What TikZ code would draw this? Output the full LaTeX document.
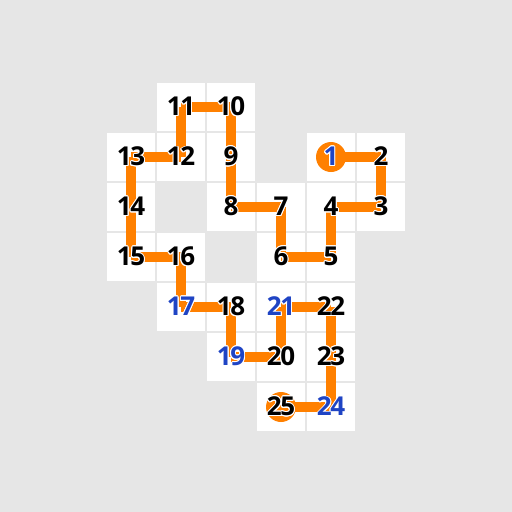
\documentclass[tikz,border=0pt]{standalone}
\usepackage{fontspec}
\setmainfont{Open Sans}[LetterSpace=-6]
\usepackage[copies]{contour}
\contourlength{0.7pt}
\definecolor{bggray}{HTML}{E6E6E6}
\definecolor{pathorange}{HTML}{FF8000}
\definecolor{givenblue}{HTML}{1F44C4}

\begin{document}
\begin{tikzpicture}[x=0.75pt,y=-0.75pt]
    \tikzstyle{cell}=[rectangle,fill=white,minimum size=36pt,inner sep=0pt]
    \tikzstyle{num}=[font=\fontsize{19.5}{20}\selectfont\bfseries,inner sep=0pt]
    \tikzstyle{given}=[num,text=givenblue]
    \tikzstyle{link}=[draw=pathorange,line width=7.5pt]
    \tikzstyle{endmark}=[circle,fill=pathorange,minimum size=22.5pt,inner sep=0pt]

    %%% BACKGROUND
    \fill[bggray] (0,0) rectangle (512,512);
    \useasboundingbox (0,0) rectangle (512,512);

    %%% DRAW THE CELLS
    \foreach \n/\c/\r in {1/5/2,2/6/2,3/6/3,4/5/3,5/5/4,6/4/4,7/4/3,8/3/3,9/3/2,
                          10/3/1,11/2/1,12/2/2,13/1/2,14/1/3,15/1/4,16/2/4,17/2/5,
                          18/3/5,19/3/6,20/4/6,21/4/5,22/5/5,23/5/6,24/5/7,25/4/7}
        \node[cell] (c-\n) at ({81+50*\c},{57+50*\r}) {};

    %%% DRAW THE PATH
    \foreach \a in {1,...,24} {
        \pgfmathtruncatemacro\b{\a+1}
        \draw[link] (c-\a.center) -- (c-\b.center);
    }
    \node[endmark] (start) at (c-1) {};
    \node[endmark] (finish) at (c-25) {};

    %%% NUMBERS
    \foreach \n in {2,3,...,16,18,20,22,23,25}
        \node[num] (t-\n) at (c-\n) {\contour{white}{\n}};
    \foreach \n in {1,17,19,21,24}
        \node[given] (t-\n) at (c-\n) {\contour{white}{\n}};
\end{tikzpicture}
\end{document}
